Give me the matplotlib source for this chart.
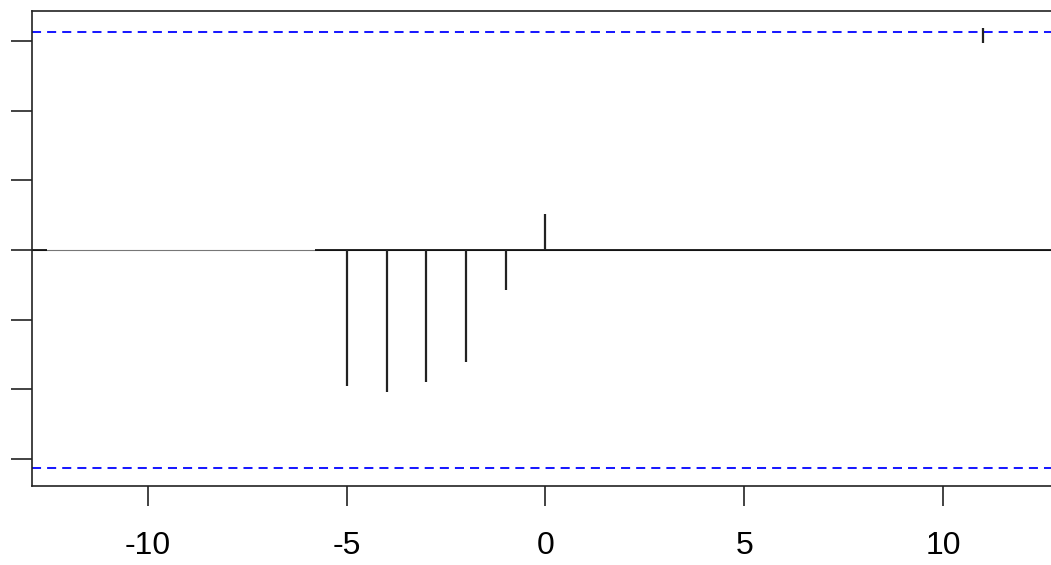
import matplotlib
matplotlib.use("Agg")
import matplotlib.pyplot as plt

plt.rcParams['font.family'] = ['Liberation Sans', 'DejaVu Sans']

# cross-correlation by lag
lags = [-12, -11, -10, -9, -8, -7, -6, -5, -4, -3, -2, -1, 0,
        1, 2, 3, 4, 5, 6, 7, 8, 9, 10, 11, 12]
ccf_top = [0, 0, 0, 0, 0, 0, 0, -0.195, -0.204, -0.189, -0.161, -0.057, 0.052,
           0, 0, 0, 0, 0, 0, 0, 0, 0, 0, 0.318, 0]
ccf_base = [0, 0, 0, 0, 0, 0, 0, 0, 0, 0, 0, 0, 0,
            0, 0, 0, 0, 0, 0, 0, 0, 0, 0, 0.297, 0]
conf_limit = 0.313
x_ticks = [-10, -5, 0, 5, 10]
y_ticks = [-0.3, -0.2, -0.1, 0.0, 0.1, 0.2, 0.3]

W, H = 1051, 565
fig = plt.figure(figsize=(W / 100, H / 100), dpi=100)
ax = fig.add_axes([32 / W, 1 - 486 / H, 1 - 32 / W, (486 - 10.5) / H])

ax.set_xlim(-12.92, 12.72)
ax.set_ylim(-0.3386, 0.3436)

# zero reference line
ax.axhline(0, color='#777777', lw=0.8, zorder=1)
ax.hlines(0, -5.8, 12.72, color='black', lw=1.2, zorder=2)
ax.hlines(0, -12.92, -12.54, color='black', lw=1.2, zorder=2)

# lag stems
ax.vlines(lags, ccf_base, ccf_top, color='#222222', lw=1.6, zorder=3)

# significance bounds
for v in (conf_limit, -conf_limit):
    ax.axhline(v, color='#1a1aff', lw=1.45, linestyle=(0, (4.5, 3.0)), zorder=2)

ax.set_xticks(x_ticks)
ax.set_xticklabels([str(t) for t in x_ticks], fontsize=23)
ax.set_yticks(y_ticks)
ax.set_yticklabels([])
ax.tick_params(axis='x', length=14.5, width=1.2, pad=18, colors='#222222',
               labelcolor='black')
ax.tick_params(axis='y', length=15, width=1.2, colors='#222222')
ax.spines['right'].set_visible(False)
for s in ('left', 'top', 'bottom'):
    ax.spines[s].set_linewidth(1.2)
    ax.spines[s].set_color('#222222')

fig.savefig('out.png', dpi=100)
